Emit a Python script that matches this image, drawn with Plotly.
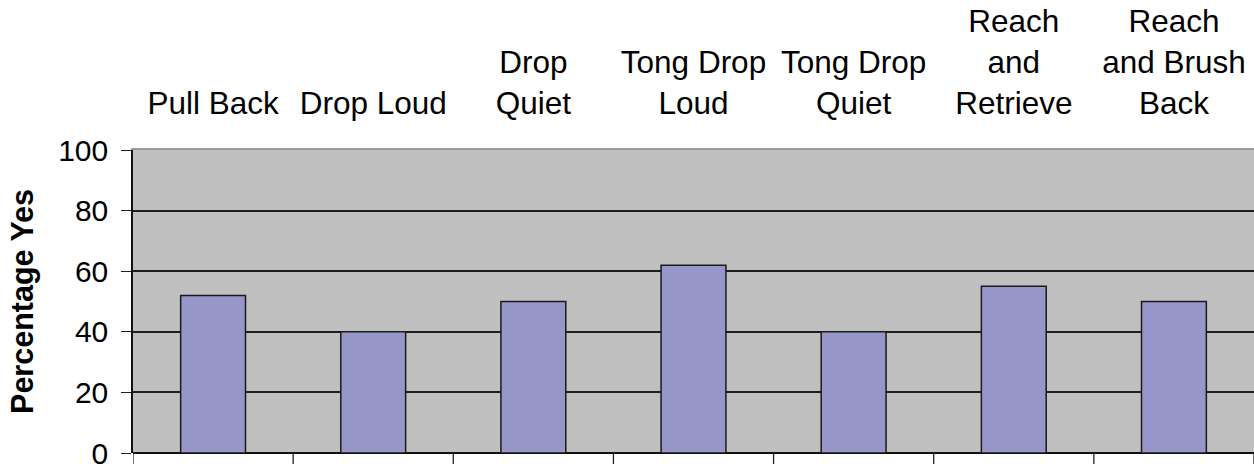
import plotly.graph_objects as go

categories = ["Pull Back", "Drop Loud", "Drop<br>Quiet", "Tong Drop<br>Loud",
              "Tong Drop<br>Quiet", "Reach<br>and<br>Retrieve", "Reach<br>and Brush<br>Back"]
percent_yes = [52, 40, 50, 62, 40, 55, 50]
y_ticks = [0, 20, 40, 60, 80, 100]

FONT = "Liberation Sans, Arial, sans-serif"
n = len(categories)

fig = go.Figure()
fig.add_trace(go.Bar(
    x=categories, y=percent_yes,
    marker=dict(color="#9696C8", line=dict(color="#1a1a1a", width=1.5)),
    width=0.405, showlegend=False, hoverinfo="y",
))

# short tick marks below the plot at each category boundary
for i in range(n + 1):
    fig.add_shape(
        type="line", xref="x", yref="paper", ysizemode="pixel", yanchor=0,
        x0=i - 0.5, x1=i - 0.5, y0=0, y1=-11,
        line=dict(color="#222", width=1.3), layer="above",
    )

fig.update_layout(
    width=1254, height=464,
    margin=dict(l=133, r=0, t=150, b=11, pad=0, autoexpand=False),
    paper_bgcolor="white", plot_bgcolor="#C0C0C0",
    font=dict(family=FONT, size=30, color="black"),
    xaxis=dict(
        type="category", side="top", range=[-0.5, n - 0.5],
        ticks="", showline=True, linecolor="#9a9a9a", linewidth=1.5,
        showgrid=False, zeroline=False, tickfont=dict(size=31.5),
        ticklabelstandoff=22, automargin=False, fixedrange=True,
    ),
    yaxis=dict(
        range=[0, 100], tickvals=y_ticks, ticks="outside", ticklen=10,
        tickwidth=1.3, tickcolor="#222", showline=True, linecolor="#111",
        linewidth=1.5, showgrid=True, gridcolor="#1e1e1e", gridwidth=1.5,
        zeroline=True, zerolinecolor="#111", zerolinewidth=1.5,
        tickfont=dict(size=30), ticklabelstandoff=7, ticklabeloverflow="allow",
        title=dict(text="<b>Percentage Yes</b>", font=dict(size=30.5), standoff=16),
        automargin=False, fixedrange=True,
    ),
)

fig.write_html("out.html")
